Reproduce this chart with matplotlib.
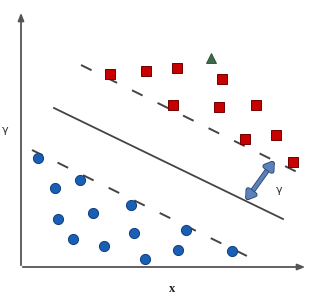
import numpy as np
import matplotlib
matplotlib.use("Agg")
import matplotlib.pyplot as plt
import matplotlib.patheffects as pe

# positions in image units (x right, y down)
red_x = [110, 146, 177, 222, 173, 219, 256, 245, 276, 293]
red_y = [74, 71, 68, 79, 105, 107, 105, 139, 135, 162]
tri_x = [211]
tri_y = [58]
blue_x = [38, 55, 80, 58, 93, 73, 104, 131, 134, 145, 186, 178, 232]
blue_y = [158, 188, 180, 219, 213, 239, 246, 205, 233, 259, 230, 250, 251]

solid_x = [54, 283]
solid_y = [108, 219]
upper_x = [81, 297]
upper_y = [65, 172]
lower_x = [32, 249]
lower_y = [150, 257]
margin_from = (246, 200)
margin_to = (274, 161)

plt.rcParams['lines.scale_dashes'] = False
fig = plt.figure(figsize=(3.12, 2.97), dpi=100)
ax = fig.add_axes([0, 0, 1, 1])
ax.set_xlim(0, 312)
ax.set_ylim(297, 0)
ax.axis('off')

axis_col = '#555555'
ax.annotate('', xy=(21, 10), xytext=(21, 268),
            arrowprops=dict(arrowstyle='-|>,head_length=0.45,head_width=0.18', color=axis_col, lw=1.3))
ax.annotate('', xy=(308, 267), xytext=(20, 267),
            arrowprops=dict(arrowstyle='-|>,head_length=0.45,head_width=0.18', color=axis_col, lw=1.3))

ax.plot(solid_x, solid_y, color='#444444', lw=1.3)
ax.plot(upper_x, upper_y, color='#444444', lw=1.4, dashes=[8.5, 12])
ax.plot(lower_x, lower_y, color='#444444', lw=1.4, dashes=[8.5, 12])

ax.plot(red_x, red_y, 's', ms=6.5, color='#c80000', mec='#6e0000', mew=0.7, ls='none')
ax.plot(tri_x, tri_y, '^', ms=7, color='#3d6a4a', mec='#2a4a33', mew=0.6, ls='none')
ax.plot(blue_x, blue_y, 'o', ms=7.3, color='#1a5fb4', mec='#0d3f7f', mew=0.7, ls='none')

arr = ax.annotate('', xy=margin_to, xytext=margin_from,
                  arrowprops=dict(arrowstyle='<|-|>,head_length=0.45,head_width=0.3',
                                  color='#5b82b8', lw=2.6, shrinkA=0, shrinkB=0))
arr.arrow_patch.set_path_effects([pe.Stroke(linewidth=3.8, foreground='#2b4470'), pe.Normal()])

ax.text(279, 190, 'γ', fontsize=8, color='#333333', ha='center', va='center')
ax.text(5, 130, 'γ', fontsize=8, color='#333333', ha='center', va='center')
ax.text(172, 289, 'x', fontsize=9, color='#222222', ha='center', va='center',
        family='Liberation Serif', weight='bold')

fig.savefig('out.png', dpi=100)
